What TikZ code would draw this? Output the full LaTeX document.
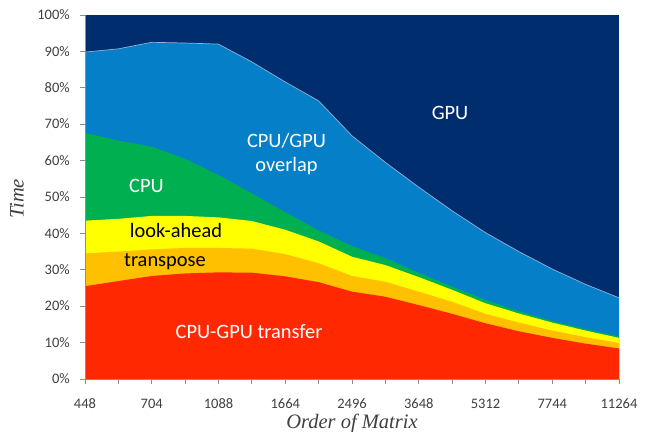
\documentclass[tikz,border=0pt]{standalone}
\usepackage{fontspec}
\setmainfont{Carlito}
\newfontfamily\titlefont{Liberation Serif}
\definecolor{cgpu}{HTML}{002D6E}
\definecolor{cover}{HTML}{0580C8}
\definecolor{ccpu}{HTML}{00B050}
\definecolor{clook}{HTML}{FFFF00}
\definecolor{ctrans}{HTML}{FFC000}
\definecolor{cxfer}{HTML}{FF2800}
\definecolor{caxis}{HTML}{8C8C8C}
\definecolor{ctext}{HTML}{404040}
\definecolor{cedge}{HTML}{8FB2D8}
\tikzset{
  ticklabel/.style={font=\fontsize{14.5}{16}\selectfont, text=ctext, inner sep=0pt},
  arealabel/.style={font=\fontsize{20.4}{24}\selectfont, inner sep=0pt, anchor=base},
  axistitle/.style={font=\fontsize{20.5}{24}\selectfont\titlefont\itshape, text=ctext, inner sep=0pt, text height=14pt, text depth=3pt},
  axisline/.style={draw=caxis, line width=0.8pt}
}
\begin{document}
\begin{tikzpicture}[x=1pt,y=1pt]
\useasboundingbox (0,0) rectangle (647,431);
\fill[white] (0,0) rectangle (647,431);
\begin{scope}[shift={(85,52)}, x=33.375pt, y=3.64pt]
  % faint gridline at top
  \draw[caxis!50, line width=0.6pt] (0,100) -- (16,100);
  % GPU (whole area)
  \fill[cgpu] (0,0) rectangle (16,100);
  % CPU/GPU overlap
  \fill[cover] (0,0) -- plot coordinates {(0,89.8) (1,90.7) (2,92.5) (3,92.3) (4,92.0) (5,87.1) (6,81.6) (7,76.4) (8,66.8) (9,59.5) (10,52.7) (11,46.2) (12,40.2) (13,35.0) (14,30.2) (15,26.0) (16,22.3)} -- (16,0) -- cycle;
  \draw[cedge, line width=0.7pt] plot coordinates {(0,89.8) (1,90.7) (2,92.5) (3,92.3) (4,92.0) (5,87.1) (6,81.6) (7,76.4) (8,66.8) (9,59.5) (10,52.7) (11,46.2) (12,40.2) (13,35.0) (14,30.2) (15,26.0) (16,22.3)};
  % CPU
  \fill[ccpu] (0,0) -- plot coordinates {(0,67.6) (1,65.5) (2,63.8) (3,60.5) (4,56.0) (5,51.0) (6,45.8) (7,40.8) (8,36.5) (9,33.2) (10,29.1) (11,25.4) (12,21.7) (13,18.6) (14,15.9) (15,13.7) (16,11.7)} -- (16,0) -- cycle;
  % look-ahead
  \fill[clook] (0,0) -- plot coordinates {(0,43.5) (1,44.0) (2,44.8) (3,44.8) (4,44.4) (5,43.4) (6,41.0) (7,37.8) (8,33.6) (9,31.3) (10,28.0) (11,24.5) (12,20.8) (13,18.0) (14,15.5) (15,13.3) (16,11.3)} -- (16,0) -- cycle;
  % transpose
  \fill[ctrans] (0,0) -- plot coordinates {(0,34.5) (1,35.0) (2,35.6) (3,36.0) (4,36.0) (5,35.8) (6,34.3) (7,31.8) (8,28.3) (9,26.7) (10,24.0) (11,21.2) (12,17.9) (13,15.5) (14,13.3) (15,11.5) (16,9.9)} -- (16,0) -- cycle;
  % CPU-GPU transfer
  \fill[cxfer] (0,0) -- plot coordinates {(0,25.5) (1,26.9) (2,28.3) (3,29.0) (4,29.3) (5,29.2) (6,28.2) (7,26.6) (8,24.0) (9,22.6) (10,20.3) (11,17.9) (12,15.3) (13,13.1) (14,11.3) (15,9.7) (16,8.4)} -- (16,0) -- cycle;
  % axes
  \draw[axisline] (0,100) -- (0,0) -- (16,0);
  \foreach \v in {0,10,...,100} {
    \draw[axisline] (0,\v) -- ++(-5pt,0);
    \node[ticklabel, anchor=base east] (yl\v) at ([xshift=-15pt, yshift=-4.7pt]0,\v) {\v\%};
  }
  \foreach \i in {0,...,16} {
    \draw[axisline] (\i,0) -- ++(0,-5pt);
  }
  \foreach \i/\lab in {0/448, 2/704, 4/1088, 6/1664, 8/2496, 10/3648, 12/5312, 14/7744, 16/11264} {
    \node[ticklabel, anchor=base] (xl\i) at ([yshift=-29pt]\i,0) {\lab};
  }
\end{scope}
% area labels (absolute pt; y = 431 - pixel row)
\node[arealabel, text=white] (lgpu) at (450,311) {GPU};
\node[arealabel, text=white] (lover1) at (286.5,283) {CPU/GPU};
\node[arealabel, text=white] (lover2) at (286.5,259) {overlap};
\node[arealabel, text=white] (lcpu) at (146.5,238) {CPU};
\node[arealabel, text=black] (llook) at (176,193.7) {look-ahead};
\node[arealabel, text=black] (ltrans) at (165,164.3) {transpose};
\node[arealabel, text=white] (lxfer) at (249,93) {CPU-GPU transfer};
% axis titles
\node[axistitle, rotate=90] (ttime) at (18,232) {Time};
\node[axistitle, anchor=base] (torder) at (352,3) {Order of Matrix};
\end{tikzpicture}
\end{document}
